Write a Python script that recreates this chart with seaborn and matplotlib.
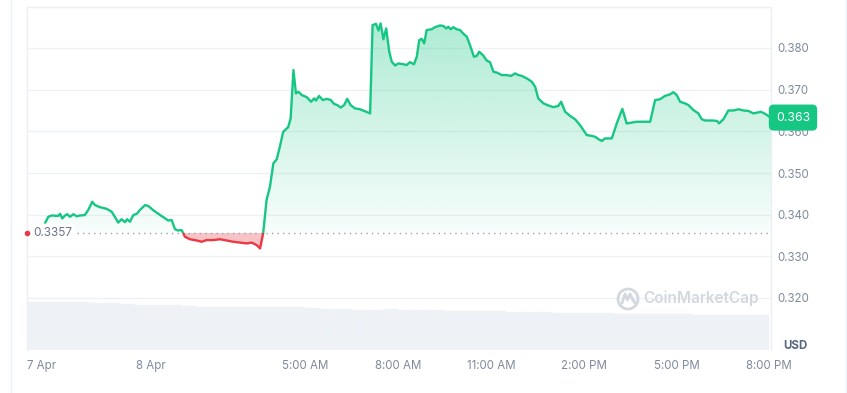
import numpy as np
import pandas as pd
import matplotlib
matplotlib.use("Agg")
import matplotlib.pyplot as plt
import seaborn as sns
from matplotlib.patches import Rectangle, Circle
from matplotlib.lines import Line2D
from matplotlib.path import Path
from matplotlib.transforms import blended_transform_factory, IdentityTransform

# ---------------- data ----------------
hours = [-3.43,-3.32,-3.21,-3.00,-2.94,-2.87,-2.78,-2.71,-2.62,-2.51,-2.40,-2.30,-2.14,-2.03,-1.90,-1.81,-1.65,-1.43,-1.27,-1.17,
         -1.06,-0.95,-0.84,-0.77,-0.68,-0.57,-0.46,-0.36,-0.19,-0.09,0.07,0.24,0.40,0.56,0.67,0.78,0.88,0.99,1.05,1.10,
         1.26,1.48,1.64,1.80,2.02,2.23,2.45,2.66,2.88,3.10,3.26,3.42,3.53,3.63,3.74,3.85,3.96,4.07,4.17,4.28,
         4.44,4.52,4.61,4.69,4.77,4.88,5.04,5.18,5.28,5.34,5.44,5.56,5.69,5.82,5.92,6.03,6.14,6.25,6.35,6.46,
         6.60,6.76,6.93,7.09,7.17,7.28,7.36,7.43,7.52,7.61,7.71,7.79,7.90,8.00,8.17,8.27,8.38,8.51,8.60,8.68,
         8.76,8.84,8.92,9.08,9.19,9.35,9.46,9.55,9.62,9.70,9.78,9.89,10.00,10.11,10.22,10.32,10.45,10.54,10.62,10.75,
         10.86,10.97,11.08,11.19,11.35,11.51,11.65,11.78,11.89,12.00,12.16,12.32,12.43,12.53,12.70,12.86,13.02,13.18,13.27,13.40,
         13.56,13.72,13.88,14.10,14.26,14.37,14.48,14.59,14.69,14.91,15.07,15.25,15.39,15.56,15.72,15.93,16.15,16.31,16.47,16.63,
         16.80,16.90,17.01,17.12,17.28,17.39,17.55,17.71,17.82,17.93,18.15,18.31,18.38,18.52,18.68,18.84,19.01,19.17,19.33,19.49,
         19.62,19.73,19.87,20.01,20.06]
prices = [0.3379,0.3395,0.3398,0.3397,0.3402,0.3391,0.3398,0.3401,0.3395,0.3401,0.3396,0.3398,0.3399,0.3411,0.3431,0.3423,0.3418,0.3414,0.3407,0.3395,
          0.3381,0.3389,0.3382,0.3389,0.3383,0.3399,0.3402,0.3411,0.3423,0.3421,0.3411,0.3402,0.3394,0.3386,0.3387,0.3365,0.3362,0.3363,0.3355,0.3347,
          0.3341,0.3338,0.3335,0.3339,0.3339,0.3341,0.3338,0.3335,0.3333,0.3331,0.3333,0.3327,0.3319,0.3355,0.3435,0.3467,0.3523,0.3533,0.3563,0.3599,
          0.3610,0.3631,0.3747,0.3691,0.3695,0.3687,0.3682,0.3671,0.3679,0.3674,0.3685,0.3675,0.3678,0.3675,0.3666,0.3663,0.3657,0.3663,0.3678,0.3663,
          0.3655,0.3653,0.3648,0.3643,0.3855,0.3858,0.3842,0.3859,0.3821,0.3847,0.3791,0.3767,0.3758,0.3763,0.3761,0.3759,0.3766,0.3761,0.3779,0.3819,
          0.3822,0.3811,0.3843,0.3845,0.3850,0.3854,0.3853,0.3847,0.3851,0.3845,0.3850,0.3845,0.3843,0.3834,0.3827,0.3807,0.3779,0.3781,0.3791,0.3782,
          0.3770,0.3766,0.3743,0.3741,0.3735,0.3735,0.3733,0.3739,0.3735,0.3733,0.3727,0.3719,0.3707,0.3679,0.3667,0.3662,0.3658,0.3661,0.3671,0.3647,
          0.3637,0.3629,0.3615,0.3591,0.3589,0.3587,0.3581,0.3577,0.3583,0.3583,0.3619,0.3654,0.3619,0.3621,0.3623,0.3623,0.3623,0.3675,0.3677,0.3685,
          0.3689,0.3694,0.3687,0.3671,0.3667,0.3663,0.3651,0.3643,0.3629,0.3626,0.3626,0.3625,0.3619,0.3629,0.3650,0.3650,0.3653,0.3650,0.3649,0.3643,
          0.3645,0.3647,0.3642,0.3635,0.3633]
assert len(hours) == len(prices)

vol_hours = [-3.75,-3.25,-2.75,-2.25,-1.75,-1.25,-0.75,-0.25,0.25,0.75,1.25,1.75,2.25,2.75,3.25,3.75,4.25,4.75,5.25,5.75,
             6.25,6.75,7.25,7.75,8.25,8.75,9.25,9.75,10.25,10.75,11.25,11.75,12.25,12.75,13.25,13.75,14.25,14.75,15.25,15.75,
             16.25,16.75,17.25,17.75,18.25,18.75,19.25,19.75]
volume = [4.76,4.80,4.84,4.82,4.74,4.67,4.60,4.54,4.48,4.46,4.41,4.34,4.27,4.26,4.28,4.30,4.33,4.28,4.18,4.12,
          4.08,4.03,4.05,4.09,4.05,4.00,3.97,3.94,3.92,3.90,3.88,3.84,3.81,3.77,3.74,3.72,3.69,3.66,3.64,3.62,
          3.60,3.58,3.56,3.55,3.53,3.52,3.50,3.49]
assert len(vol_hours) == len(volume)

baseline = 0.3357
baseline_label = "0.3357"
last_label = "0.363"
y_ticks = [0.320, 0.330, 0.340, 0.350, 0.360, 0.370, 0.380]
x_tick_hours = [-3.53, 0, 5, 8, 11, 14, 17, 20]
x_tick_labels = ["7 Apr", "8 Apr", "5:00 AM", "8:00 AM", "11:00 AM", "2:00 PM", "5:00 PM", "8:00 PM"]
currency = "USD"
watermark = "CoinMarketCap"

XLIM = (-4.01, 20.06)
YLIM = (0.30752, 0.38984)
VOL_TOP = 34.3

GREEN = "#16c784"
RED = "#ea3943"
GRID = "#eff2f5"
TICK = "#808a9d"
DARK = "#58667e"

# ---------------- style ----------------
sns.set_theme(style="white")
plt.rcParams['font.family'] = ['Inter', 'DejaVu Sans']

W, H = 847, 393
fig = plt.figure(figsize=(W / 100, H / 100), dpi=100)
rect = [27 / W, 43 / H, 744 / W, 343 / H]

# volume axes (behind)
axv = fig.add_axes(rect)
axv.bar(vol_hours, volume, width=0.5, color="#eef1f5", edgecolor="#f3f5f8", linewidth=0.3)
axv.set_xlim(*XLIM)
axv.set_ylim(0, VOL_TOP)
axv.set_axis_off()

# price axes
ax = fig.add_axes(rect)
ax.patch.set_visible(False)

df = pd.DataFrame({"hour": hours, "price": prices})
p = np.array(prices)
h = np.array(hours)

# green gradient fill above baseline
poly = ax.fill_between(h, p, baseline, where=p >= baseline, interpolate=True,
                       facecolor="none", edgecolor="none")
clip = Path.make_compound_path(*poly.get_paths())
n = 256
grad = np.zeros((n, 1, 4))
rgb = matplotlib.colors.to_rgb(GREEN)
grad[:, 0, 0], grad[:, 0, 1], grad[:, 0, 2] = rgb
grad[:, 0, 3] = np.linspace(0.36, 0.03, n)
im = ax.imshow(grad, extent=[XLIM[0], XLIM[1], baseline, 0.388], aspect="auto",
               origin="upper", interpolation="bilinear", zorder=1)
im.set_clip_path(clip, transform=ax.transData)

# red fill below baseline
ax.fill_between(h, p, baseline, where=p <= baseline, interpolate=True,
                color=RED, alpha=0.3, linewidth=0, zorder=1)

# baseline dotted
ax.axhline(baseline, color="#9aa2b4", lw=1, ls=(0, (1, 3)), zorder=2)

# price line: green above, red below baseline
sns.lineplot(data=df, x="hour", y="price", ax=ax, color=GREEN, lw=1.7, zorder=3)
ln_g = ax.lines[-1]
sns.lineplot(data=df, x="hour", y="price", ax=ax, color=RED, lw=1.7, zorder=3)
ln_r = ax.lines[-1]
r_up = Rectangle((XLIM[0], baseline), XLIM[1] - XLIM[0], 1, transform=ax.transData)
r_dn = Rectangle((XLIM[0], baseline - 1), XLIM[1] - XLIM[0], 1, transform=ax.transData)
ln_g.set_clip_path(r_up)
ln_r.set_clip_path(r_dn)

ax.set_xlim(*XLIM)
ax.set_ylim(*YLIM)
ax.set_xlabel("")
ax.set_ylabel("")

# axes styling
ax.set_yticks(y_ticks)
ax.set_yticklabels([f"{v:.3f}" for v in y_ticks])
ax.yaxis.tick_right()
ax.grid(axis="y", color=GRID, lw=1)
ax.grid(axis="x", visible=False)
ax.tick_params(axis="y", length=0, pad=4.5, labelsize=8.3, labelcolor=TICK)
ax.set_xticks(x_tick_hours)
ax.set_xticklabels(x_tick_labels)
ax.tick_params(axis="x", length=0, pad=7, labelsize=8.3, labelcolor=TICK)
for s in ["top", "left", "right"]:
    ax.spines[s].set_color("#eceff3")
    ax.spines[s].set_linewidth(1)
ax.spines["bottom"].set_visible(False)

# baseline label
bt = blended_transform_factory(ax.transAxes, ax.transData)
ax.text(0.009, baseline, baseline_label, transform=bt, ha="left", va="center",
        fontsize=8.5, color="#6b7488", zorder=5,
        bbox=dict(boxstyle="round,pad=0.25,rounding_size=0.4", fc="white", ec="none"))
ax.plot([XLIM[0]], [baseline], marker="o", ms=3, color=RED, clip_on=False, zorder=6)

# last price badge
ax.text(1 + 22 / 744, p[-1], last_label, transform=bt, ha="center", va="center",
        fontsize=8.8, color="white", zorder=10, clip_on=False,
        bbox=dict(boxstyle="round,pad=0.52,rounding_size=0.35", fc=GREEN, ec=GREEN))

# currency label
fig.text(795 / W, 1 - 346 / H, currency, ha="center", va="center", fontsize=8.3,
         fontweight="bold", color=DARK)

# watermark
fig.text(701 / W, 1 - 298 / H, watermark, ha="center", va="center", fontsize=11,
         fontweight="semibold", color="#d3d8e0", zorder=0)
fig.add_artist(Circle((628, H - 299), 10, transform=IdentityTransform(), fill=False,
                      ec="#d3d8e0", lw=2))
fig.add_artist(Line2D([622, 625, 627.5, 630, 633, 635], [H - 303, H - 294, H - 300, H - 294, H - 300, H - 303],
                      transform=IdentityTransform(), color="#d3d8e0", lw=2))

# card borders
for xb in [10.5, 845.5]:
    fig.add_artist(Line2D([xb / W, xb / W], [0, 1], transform=fig.transFigure, color="#eff2f5", lw=1))

fig.savefig("out.png", dpi=100)
